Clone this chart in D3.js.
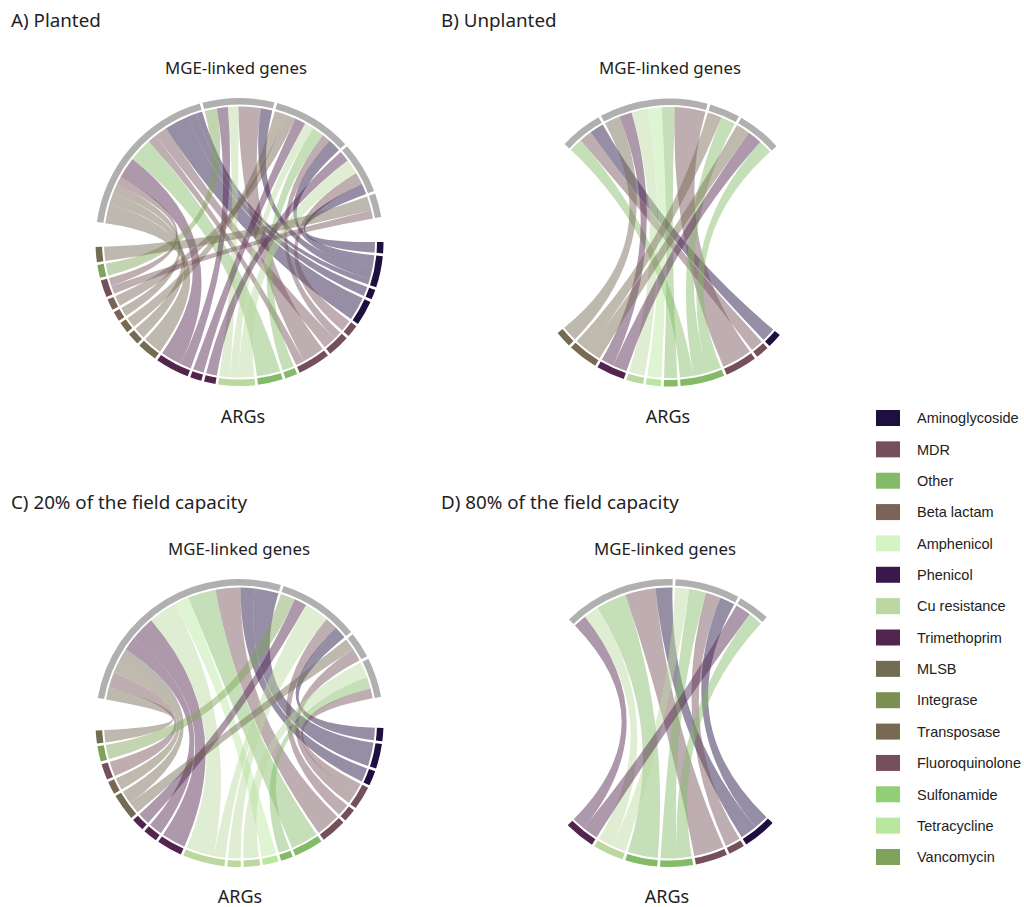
<!DOCTYPE html>
<html>
<head>
<meta charset="utf-8">
<title>Chord diagrams - ARGs and MGE-linked genes</title>
<script src="https://d3js.org/d3.v7.min.js"></script>
<style>
  html, body { margin: 0; background: #fff; }
  svg { display: block; }
  .title { font-family: "Noto Sans", sans-serif; font-size: 18.8px; fill: #222; }
  .side { font-family: "Noto Sans", sans-serif; font-size: 16.8px; fill: #222; text-anchor: middle; }
  .args { font-size: 18px; }
  .legend { font-family: "Liberation Sans", Arial, sans-serif; font-size: 14.5px; fill: #222; }
</style>
</head>
<body>
<svg width="1024" height="907"></svg>
<script>
var classes = ["Aminoglycoside", "MDR", "Other", "Beta lactam", "Amphenicol", "Phenicol", "Cu resistance",
  "Trimethoprim", "MLSB", "Integrase", "Transposase", "Fluoroquinolone", "Sulfonamide", "Tetracycline", "Vancomycin"];

// ARG sectors, clockwise from the right hand side of each circle
var plantedArgs = ["Aminoglycoside", "Aminoglycoside", "Aminoglycoside", "Aminoglycoside", "Fluoroquinolone", "MDR", "MDR",
  "Other", "Other", "Cu resistance", "Trimethoprim", "Trimethoprim", "Trimethoprim", "MLSB", "MLSB", "Transposase",
  "Beta lactam", "Beta lactam", "Fluoroquinolone", "Vancomycin", "MLSB"];
var unplantedArgs = ["Aminoglycoside", "Fluoroquinolone", "MDR", "Other", "Other", "Tetracycline", "Cu resistance",
  "Trimethoprim", "Transposase", "MLSB"];
var field20Args = ["Aminoglycoside", "Aminoglycoside", "Aminoglycoside", "Fluoroquinolone", "Fluoroquinolone", "MDR", "Other", "Other",
  "Tetracycline", "Cu resistance", "Cu resistance", "Cu resistance", "Trimethoprim", "Trimethoprim", "Trimethoprim",
  "MLSB", "Transposase", "Fluoroquinolone", "Vancomycin", "MLSB"];
var field80Args = ["Aminoglycoside", "Fluoroquinolone", "MDR", "Other", "Other", "Cu resistance", "Trimethoprim"];

// links in the order they sit on the MGE arc: [MGE sector, ARG sector, value]
var plantedLinks = [
  [0, 13, 8.1], [0, 14, 4.9], [0, 16, 3.9], [0, 18, 3.4], [0, 12, 9], [0, 8, 10], [0, 6, 3.6], [0, 5, 5.4], [0, 3, 10], [0, 2, 4], [0, 1, 2.5],
  [1, 19, 5.2], [1, 12, 4.6], [1, 9, 4.4], [1, 6, 9.5], [1, 1, 4.7],
  [2, 15, 4.5], [2, 17, 4.5], [2, 11, 4.6], [2, 9, 3.9], [2, 7, 5], [2, 5, 3.6], [2, 1, 5.4],
  [3, 10, 4.6], [3, 9, 6.4], [3, 4, 5], [3, 0, 4.5],
  [4, 20, 6], [4, 18, 3.5]
];
var unplantedLinks = [
  [0, 3, 5.8], [0, 1, 5.4], [0, 0, 6],
  [1, 9, 6.7], [1, 7, 5.4], [1, 6, 6.8], [1, 5, 6.1], [1, 4, 5.6], [1, 2, 13],
  [2, 8, 6.1], [2, 3, 6.2],
  [3, 8, 6], [3, 7, 6.1], [3, 3, 5.9]
];
var field20Links = [
  [0, 19, 5.2], [0, 17, 6.4], [0, 16, 5.2], [0, 15, 5.7], [0, 13, 5.8], [0, 12, 10.3], [0, 11, 11.9], [0, 8, 6.3], [0, 6, 11.8], [0, 5, 10.4], [0, 2, 6], [0, 1, 10],
  [1, 18, 6.2], [1, 14, 5.2], [1, 11, 5], [1, 10, 5.4], [1, 4, 5.3], [1, 0, 5.3],
  [2, 15, 5], [2, 3, 5.3],
  [3, 9, 6.6], [3, 7, 4.9], [3, 3, 4.2]
];
var field80Links = [
  [0, 6, 5.6], [0, 5, 6.4], [0, 4, 12.8], [0, 2, 12.8], [0, 0, 7.1],
  [1, 5, 5.9], [1, 3, 7.1], [1, 1, 6.4], [1, 0, 6.3],
  [2, 6, 6.6], [2, 3, 6]
];

var colour = d3.scaleOrdinal()
  .domain(classes)
  .range(["#1e0f3e", "#75505a", "#84ba68", "#7a6458", "#d6f3c4", "#3a1a4a", "#bcd8a0",
    "#52244e", "#736b52", "#7a8f50", "#786a52", "#75505a", "#92cf77", "#b8e8a0", "#7fa35a"]);

var panels = [
  { title: "A) Planted", tx: 11, ty: 27, cx: 239.5, cy: 242, top: [-82, 80], bottom: [90, 268], args: plantedArgs, links: plantedLinks, mge: [236, 74], arg: [243, 423] },
  { title: "B) Unplanted", tx: 441, ty: 27, cx: 669.5, cy: 242.5, top: [-46.8, 48], bottom: [130, 231], args: unplantedArgs, links: unplantedLinks, mge: [670, 74], arg: [668, 423] },
  { title: "C) 20% of the field capacity", tx: 11, ty: 509, cx: 239.5, cy: 723, top: [-80, 79.5], bottom: [92, 267], args: field20Args, links: field20Links, mge: [239, 555], arg: [240, 903] },
  { title: "D) 80% of the field capacity", tx: 441, ty: 509, cx: 669, cy: 723, top: [-44, 42.7], bottom: [134, 224.7], args: field80Args, links: field80Links, mge: [665, 555], arg: [667, 903] }
];

var svg = d3.select("svg");
var rad = Math.PI / 180;
var gap = 1.1;
var ringOuter = 144, ringInner = 137.5, ribbonR = 135.5;

var arc = d3.arc().innerRadius(ringInner).outerRadius(ringOuter);
var ribbon = d3.ribbon().radius(ribbonR);

// walk the groups of one side and hand back their arcs and each link's angles
function layoutSide(keys, range, linksOf) {
  var total = d3.sum(keys, function(k) { return d3.sum(linksOf(k), function(l) { return l[2]; }); }) + gap * (keys.length - 1);
  var angle = d3.scaleLinear().domain([0, total]).range(range);
  var pos = 0, groups = [], bands = new Map();
  keys.forEach(function(k) {
    var start = pos;
    linksOf(k).forEach(function(l) {
      bands.set(l, { startAngle: angle(pos) * rad, endAngle: angle(pos + l[2]) * rad });
      pos += l[2];
    });
    groups.push({ key: k, startAngle: angle(start) * rad, endAngle: angle(pos) * rad });
    pos += gap;
  });
  return { groups: groups, bands: bands };
}

panels.forEach(function(p) {
  var g = svg.append("g").attr("transform", "translate(" + p.cx + "," + p.cy + ")");

  var mgeKeys = Array.from(new Set(p.links.map(function(l) { return l[0]; })));
  var argKeys = d3.range(p.args.length);

  var top = layoutSide(mgeKeys, p.top, function(k) {
    return p.links.filter(function(l) { return l[0] === k; });
  });
  // within an ARG sector the links run opposite to the MGE arc so they don't twist
  var bottom = layoutSide(argKeys, p.bottom, function(k) {
    return p.links.filter(function(l) { return l[1] === k; }).reverse();
  });

  g.selectAll("path.link")
    .data(p.links)
    .enter()
    .append("path")
    .attr("class", "link")
    .attr("fill", function(l) { return colour(p.args[l[1]]); })
    .attr("fill-opacity", 0.47)
    .attr("d", function(l) {
      return ribbon({ source: bottom.bands.get(l), target: top.bands.get(l) });
    });

  g.selectAll("path.mge")
    .data(top.groups)
    .enter()
    .append("path")
    .attr("class", "mge")
    .attr("fill", "#b0b0b0")
    .attr("d", arc);

  g.selectAll("path.arg")
    .data(bottom.groups)
    .enter()
    .append("path")
    .attr("class", "arg")
    .attr("fill", function(d) { return colour(p.args[d.key]); })
    .attr("d", arc);

  svg.append("text").attr("class", "title").attr("x", p.tx).attr("y", p.ty).text(p.title);
  svg.append("text").attr("class", "side").attr("x", p.mge[0]).attr("y", p.mge[1]).text("MGE-linked genes");
  svg.append("text").attr("class", "side args").attr("x", p.arg[0]).attr("y", p.arg[1]).text("ARGs");
});

// legend
var legendY = d3.scalePoint().domain(classes).range([418, 857]);
var legend = svg.selectAll("g.key")
  .data(classes)
  .enter()
  .append("g")
  .attr("class", "key")
  .attr("transform", function(d) { return "translate(876," + legendY(d) + ")"; });

legend.append("rect")
  .attr("y", -8)
  .attr("width", 24)
  .attr("height", 16)
  .attr("fill", function(d) { return colour(d); });

legend.append("text")
  .attr("class", "legend")
  .attr("x", 41)
  .attr("dy", "0.36em")
  .text(function(d) { return d; });
</script>
</body>
</html>
